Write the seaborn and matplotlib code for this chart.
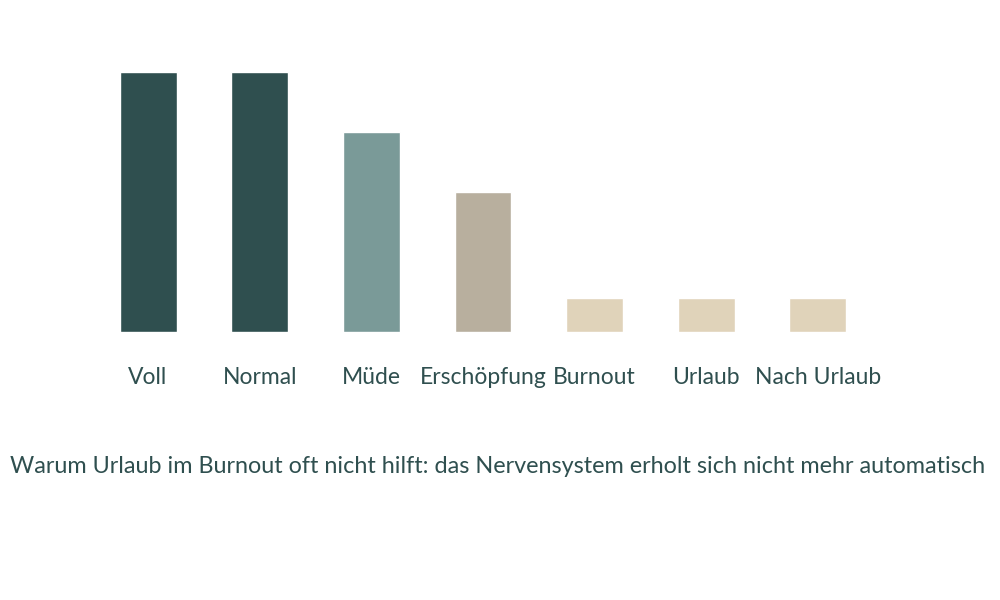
import matplotlib
matplotlib.use("Agg")
import matplotlib.pyplot as plt
import seaborn as sns
import pandas as pd

# Data
stages = ["Voll", "Normal", "Müde", "Erschöpfung", "Burnout", "Urlaub", "Nach Urlaub"]
energy = [100, 100, 77, 54, 13, 13, 13]
colours = ["#2F4F4F", "#2F4F4F", "#7A9A98", "#B8AF9E", "#E0D3BA", "#E0D3BA", "#E0D3BA"]
title = "Warum Urlaub im Burnout oft nicht hilft: das Nervensystem erholt sich nicht mehr automatisch"

text_col = "#2F4F4F"

df = pd.DataFrame({"stage": stages, "energy": energy})

sns.set_theme(style="white")
plt.rcParams['font.family'] = ['Lato', 'DejaVu Sans']

fig = plt.figure(figsize=(10, 6), dpi=100)
ax = fig.add_axes([0.0922, 0.4467, 0.7816, 0.4333])

# saturation=1 keeps the palette colours as given
sns.barplot(data=df, x="stage", y="energy", hue="stage", palette=colours,
            order=stages, hue_order=stages, width=0.51, saturation=1,
            legend=False, ax=ax)

ax.set_xlim(-0.5, len(stages) - 0.5)
ax.set_ylim(0, 100)
ax.set_xlabel("")
ax.set_ylabel("")
ax.set_yticks([])
ax.tick_params(axis="x", length=0, pad=25, labelsize=16.5, labelcolor=text_col)
for s in ax.spines.values():
    s.set_visible(False)

fig.text(0.498, 0.222, title, ha="center", va="center", fontsize=16.8, color=text_col)

fig.savefig("out.png", dpi=100, facecolor="white")
